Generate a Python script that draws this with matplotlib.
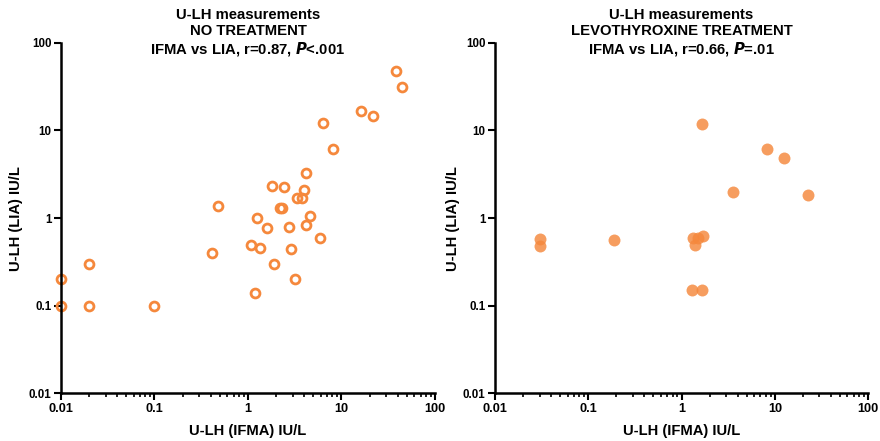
import matplotlib
matplotlib.use("Agg")
import matplotlib.pyplot as plt
import numpy as np
from matplotlib.ticker import LogLocator, FixedLocator, FixedFormatter, NullFormatter

plt.rcParams['font.family'] = ['Liberation Sans', 'DejaVu Sans']

# no treatment: IFMA (x) vs LIA (y), IU/L
ifma_none = [38.3, 44, 16, 21.9, 6.4, 8.1, 4.19, 1.81, 2.43, 4.02, 3.33, 3.76, 2.22, 2.31,
             0.48, 1.25, 4.58, 1.58, 2.73, 4.19, 5.86, 0.41, 1.09, 1.36, 2.87, 1.92, 3.22,
             1.18, 0.02, 0.01, 0.01, 0.02, 0.1]
lia_none = [48, 31.5, 16.7, 14.7, 12, 6.2, 3.29, 2.3, 2.28, 2.08, 1.71, 1.71, 1.30, 1.30,
            1.38, 0.99, 1.05, 0.77, 0.80, 0.84, 0.60, 0.40, 0.49, 0.455, 0.447, 0.30, 0.20,
            0.138, 0.3, 0.2, 0.1, 0.1, 0.1]

# levothyroxine treatment
ifma_levo = [1.64, 8.28, 12.6, 3.55, 22.6, 0.03, 0.03, 0.19, 1.32, 1.51, 1.71, 1.38, 1.31, 1.66]
lia_levo = [11.9, 6.1, 4.9, 2.0, 1.82, 0.58, 0.48, 0.565, 0.59, 0.60, 0.63, 0.49, 0.150, 0.150]

titles = ["U-LH measurements\nNO TREATMENT\nIFMA vs LIA, r=0.87, $\\bfit{P}$<.001",
          "U-LH measurements\nLEVOTHYROXINE TREATMENT\nIFMA vs LIA, r=0.66, $\\bfit{P}$=.01"]
ticks = [0.01, 0.1, 1, 10, 100]
tick_labels = ["0.01", "0.1", "1", "10", "100"]
orange = '#F5883C'

fig = plt.figure(figsize=(8.8, 4.41), dpi=100)
ax1 = fig.add_axes([0.0693, 0.108, 0.425, 0.795])
ax2 = fig.add_axes([0.5625, 0.108, 0.424, 0.795])

ax1.plot(ifma_none, lia_none, 'o', ms=6.4, mfc='none', mec=orange, mew=2.0, clip_on=False)
ax2.plot(ifma_levo, lia_levo, 'o', ms=8.6, mfc=orange, mec='none', alpha=0.82, clip_on=False)

for ax, t, ylx in zip([ax1, ax2], titles, [-0.102, -0.094]):
    ax.set_xscale('log')
    ax.set_yscale('log')
    ax.set_xlim(0.01, 100)
    ax.set_ylim(0.01, 100)
    for s in ['top', 'right']:
        ax.spines[s].set_visible(False)
    for s in ['left', 'bottom']:
        ax.spines[s].set_linewidth(1.8)
    ax.xaxis.set_major_locator(FixedLocator(ticks))
    ax.xaxis.set_major_formatter(FixedFormatter(tick_labels))
    ax.yaxis.set_major_locator(FixedLocator(ticks))
    ax.yaxis.set_major_formatter(FixedFormatter(tick_labels))
    ax.xaxis.set_minor_locator(LogLocator(base=10, subs=np.arange(2, 10)))
    ax.xaxis.set_minor_formatter(NullFormatter())
    ax.yaxis.set_minor_locator(FixedLocator([]))
    ax.tick_params(which='major', length=5, width=1.5, pad=2)
    ax.tick_params(axis='x', which='major', labelsize=9.2)
    ax.tick_params(axis='y', which='major', labelsize=8.3)
    ax.tick_params(which='minor', length=3, width=1.2)
    for lab in ax.get_xticklabels() + ax.get_yticklabels():
        lab.set_fontweight('bold')
    ax.set_xlabel("U-LH (IFMA) IU/L", fontsize=10.6, fontweight='bold')
    ax.set_ylabel("U-LH (LIA) IU/L", fontsize=10.6, fontweight='bold')
    ax.xaxis.set_label_coords(0.5, -0.086)
    ax.yaxis.set_label_coords(ylx, 0.5)
    ax.text(0.5, 1.028, t, transform=ax.transAxes, ha='center', va='center',
            fontsize=10.7, fontweight='bold', linespacing=1.2)

fig.savefig("out.png", dpi=100)
